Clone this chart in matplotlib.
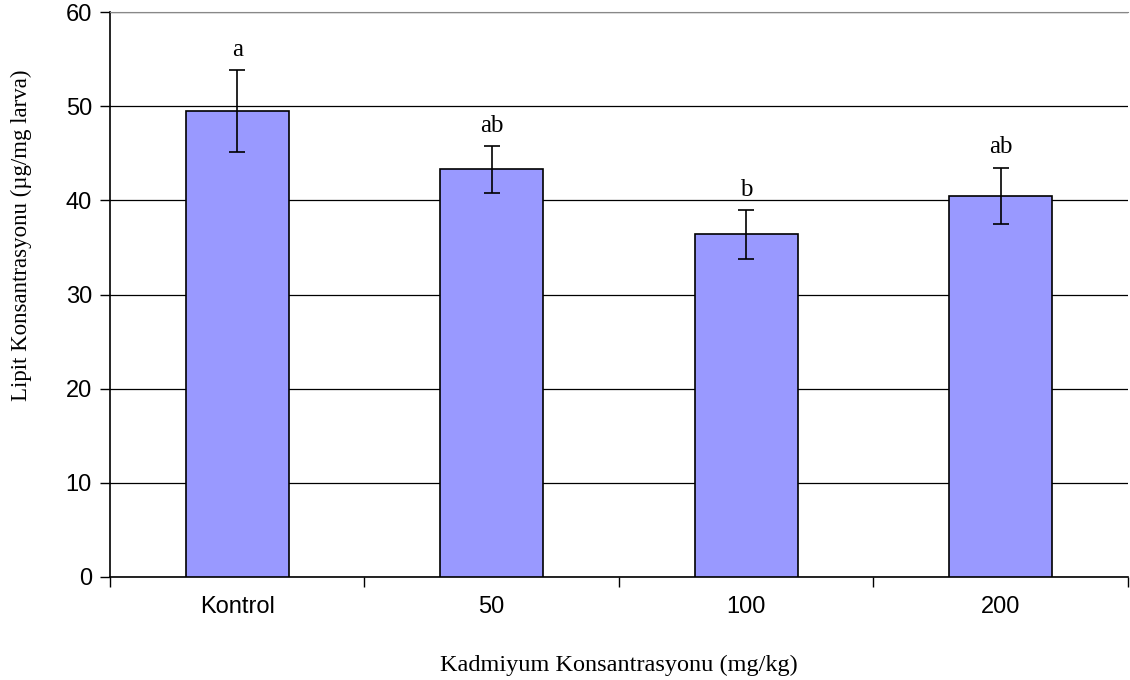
import numpy as np
import matplotlib
matplotlib.use('Agg')
import matplotlib.pyplot as plt

# data
groups = ['Kontrol', '50', '100', '200']
lipid = [49.5, 43.3, 36.4, 40.5]
err = [4.4, 2.5, 2.6, 3.0]
letters = ['a', 'ab', 'b', 'ab']

fig = plt.figure(figsize=(11.3, 6.8), dpi=100)
ax = fig.add_axes([0.0973, 0.1515, 0.9007, 0.8305])

x = np.arange(len(groups))
ax.bar(x, lipid, width=0.405, color='#9999FF', edgecolor='black', linewidth=1.2, zorder=3)
ax.errorbar(x, lipid, yerr=err, fmt='none', ecolor='black', elinewidth=1.2,
            capsize=6, capthick=1.2, zorder=4)

for xi, v, e, t in zip(x, lipid, err, letters):
    ax.text(xi, v + e + 1.5, t, ha='center', va='baseline',
            family='Liberation Serif', fontsize=18)

ax.set_xlim(-0.5, len(groups) - 0.5)
ax.set_ylim(0, 60)
ax.set_yticks(np.arange(0, 61, 10))
ax.yaxis.grid(True, color='black', linewidth=0.9, zorder=0)
ax.set_axisbelow(True)

ax.set_xticks(x)
ax.set_xticklabels(groups, family='Liberation Sans', fontsize=17)
ax.set_xticks(np.arange(-0.5, len(groups)), minor=True)
ax.tick_params(axis='x', which='major', length=0, pad=14)
ax.tick_params(axis='x', which='minor', length=7, width=1, direction='out')
ax.tick_params(axis='y', length=7, width=1, direction='out', pad=6)
for lab in ax.get_yticklabels():
    lab.set_family('Liberation Sans')
    lab.set_fontsize(17)

ax.spines['top'].set_color('#888888')
ax.spines['right'].set_visible(False)
ax.spines['left'].set_linewidth(1.2)
ax.spines['bottom'].set_linewidth(1.2)

ax.set_xlabel('Kadmiyum Konsantrasyonu (mg/kg)', family='Liberation Serif',
              fontsize=17.5, labelpad=26)
ax.set_ylabel('Lipit Konsantrasyonu (µg/mg larva)', family='Liberation Serif',
              fontsize=16.5)
ax.yaxis.set_label_coords(-0.077, 0.605)

fig.savefig('out.png', dpi=100)
